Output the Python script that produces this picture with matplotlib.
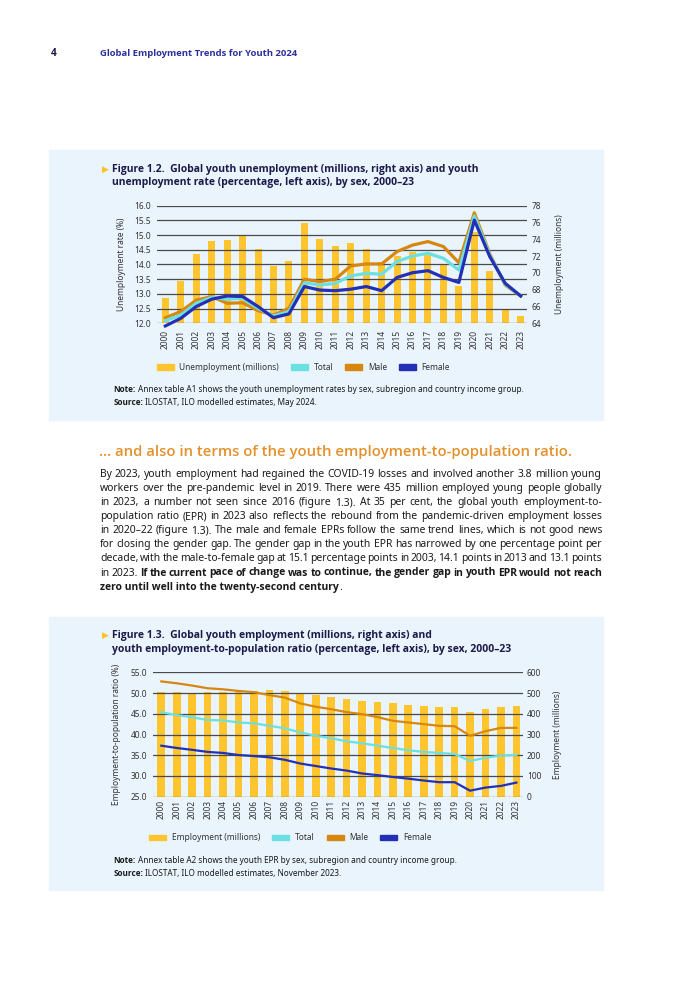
import numpy as np
import matplotlib
matplotlib.use('Agg')
import matplotlib.pyplot as plt
from matplotlib.patches import Rectangle, Patch

# Noto Sans here is a variable font (regular only), so bold text uses Open Sans
plt.rcParams['font.family'] = ['Noto Sans', 'DejaVu Sans']
BOLD_FAM = ['Open Sans', 'DejaVu Sans']

# ---- data ----
years = [str(y) for y in range(2000, 2024)]

# figure 1.2
unemp_millions = [67.0, 69.0, 72.2, 73.8, 73.9, 74.5, 72.9, 70.8, 71.4, 75.9, 74.0, 73.2,
                  73.6, 72.8, 71.3, 72.0, 72.5, 72.1, 70.9, 68.4, 74.9, 70.2, 65.7, 64.9]
ur_total = [12.09, 12.28, 12.68, 12.88, 12.82, 12.85, 12.51, 12.25, 12.40, 13.38, 13.30, 13.36,
            13.61, 13.70, 13.67, 14.10, 14.29, 14.38, 14.21, 13.81, 15.65, 14.32, 13.33, 12.93]
ur_male = [12.19, 12.40, 12.79, 12.91, 12.68, 12.70, 12.43, 12.28, 12.51, 13.50, 13.42, 13.50,
           13.95, 14.02, 14.02, 14.44, 14.66, 14.78, 14.61, 14.06, 15.76, 14.36, 13.30, 12.93]
ur_female = [11.91, 12.17, 12.57, 12.82, 12.93, 12.91, 12.57, 12.19, 12.32, 13.25, 13.13, 13.11,
             13.16, 13.25, 13.11, 13.56, 13.72, 13.79, 13.56, 13.39, 15.51, 14.27, 13.36, 12.93]

# figure 1.3
emp_millions = [503, 503, 502, 507, 507, 507, 511, 515, 510, 499, 490, 479,
                473, 463, 457, 450, 440, 436, 433, 432, 409, 423, 432, 438]
epr_total = [45.35, 44.7, 44.15, 43.5, 43.4, 42.9, 42.7, 42.1, 41.5, 40.5, 39.7, 39.1,
             38.35, 37.9, 37.3, 36.75, 36.2, 35.8, 35.55, 35.3, 33.6, 34.4, 34.9, 35.1]
epr_male = [52.8, 52.35, 51.8, 51.15, 50.9, 50.5, 50.2, 49.5, 48.9, 47.5, 46.7, 46.1,
            45.4, 44.9, 44.2, 43.3, 42.9, 42.5, 42.1, 42.0, 39.7, 40.8, 41.6, 41.6]
epr_female = [37.3, 36.75, 36.3, 35.8, 35.55, 35.05, 34.8, 34.5, 33.9, 33.0, 32.4, 31.8,
              31.3, 30.6, 30.2, 29.75, 29.35, 28.9, 28.5, 28.5, 26.45, 27.2, 27.6, 28.4]

body_lines = [
    "By 2023, youth employment had regained the COVID-19 losses and involved another 3.8 million young",
    "workers over the pre-pandemic level in 2019. There were 435 million employed young people globally",
    "in 2023, a number not seen since 2016 (figure 1.3). At 35 per cent, the global youth employment-to-",
    "population ratio (EPR) in 2023 also reflects the rebound from the pandemic-driven employment losses",
    "in 2020\u201322 (figure 1.3). The male and female EPRs follow the same trend lines, which is not good news",
    "for closing the gender gap. The gender gap in the youth EPR has narrowed by one percentage point per",
    "decade, with the male-to-female gap at 15.1 percentage points in 2003, 14.1 points in 2013 and 13.1 points",
]
body_bold_line = ("in 2023.", "If the current pace of change was to continue, the gender gap in youth EPR would not reach")
body_last = ("zero until well into the twenty-second century", ".")

YELLOW = '#FFC52F'
CYAN = '#6BE0E3'
ORANGE = '#D6870F'
BLUE = '#2330B5'
GRID = '#4a4a4a'
PANEL = '#EAF4FC'
NAVY = '#1d1a4a'
TXT = '#1a1a1a'

W, H = 700, 990
fig = plt.figure(figsize=(7, 9.9), dpi=100)
fig.patch.set_facecolor('white')


def fx(x):
    return x / W


def fy(y):
    return 1 - y / H


def axes_px(left, top, right, bottom):
    return fig.add_axes([fx(left), fy(bottom), (right - left) / W, (bottom - top) / H])


# header
fig.text(fx(50.5), fy(53), '4', fontsize=7.3, weight='bold', family=BOLD_FAM, color=NAVY, va='center')
fig.text(fx(100), fy(53), 'Global Employment Trends for Youth 2024', fontsize=6.8,
         weight='bold', family=BOLD_FAM, color='#2d2f9c', va='center')

# panels
fig.patches.append(Rectangle((fx(49), fy(420)), (603 - 49) / W, (420 - 150) / H,
                             transform=fig.transFigure, color=PANEL, zorder=-10))
fig.patches.append(Rectangle((fx(49), fy(890)), (603 - 49) / W, (890 - 617) / H,
                             transform=fig.transFigure, color=PANEL, zorder=-10))


def draw_chart(box, xlim, bars, bar_w, lines, lw, ylim, yticks, ylim2, yticks2, fmt,
               ylabel, ylabel_x, ylabel2, ylabel2_x, xpad):
    ax = axes_px(*box)
    ax2 = ax.twinx()
    ax.set_zorder(2)
    ax2.set_zorder(1)
    ax.patch.set_visible(False)
    ax2.patch.set_visible(False)
    x = np.arange(len(years))
    ax2.bar(x, bars, width=bar_w, color=YELLOW, zorder=1)
    for vals, col in lines:
        ax.plot(x, vals, color=col, lw=lw, clip_on=False, solid_joinstyle='round', zorder=3)
    ax.set_xlim(*xlim)
    ax.set_ylim(*ylim)
    ax2.set_ylim(*ylim2)
    ax.set_yticks(yticks)
    ax.set_yticklabels([fmt % v for v in yticks])
    ax2.set_yticks(yticks2)
    ax2.set_yticklabels([str(v) for v in yticks2])
    ax.set_xticks(x)
    ax.set_xticklabels(years, rotation=90)
    ax.grid(axis='y', color=GRID, lw=0.9, zorder=2)
    ax.set_axisbelow(True)
    for a in (ax, ax2):
        for s in a.spines.values():
            s.set_visible(False)
    ax.tick_params(axis='y', length=0, pad=4.3, labelsize=6, labelcolor='#333333')
    ax.tick_params(axis='x', length=0, pad=xpad, labelsize=6, labelcolor='#333333')
    ax2.tick_params(axis='y', length=0, pad=3, labelsize=6, labelcolor='#333333')
    cy = fy((box[1] + box[3]) / 2)
    fig.text(fx(ylabel_x), cy, ylabel, rotation=90, fontsize=6, color='#333333',
             ha='center', va='center')
    fig.text(fx(ylabel2_x), cy, ylabel2, rotation=90, fontsize=6, color='#333333',
             ha='center', va='center')
    return ax, ax2


draw_chart((156.7, 205.7, 527, 323.3), (-0.56, 23.41), unemp_millions, 0.45,
           [(ur_male, ORANGE), (ur_total, CYAN), (ur_female, BLUE)], 2.3,
           (12, 16), np.arange(12, 16.01, 0.5), (64, 78), list(range(64, 79, 2)), '%.1f',
           'Unemployment rate (%)', 121.5, 'Unemployment (millions)', 560, 5)

draw_chart((153.3, 672.3, 522.7, 796.7), (-0.52, 23.41), emp_millions, 0.5,
           [(epr_male, ORANGE), (epr_total, CYAN), (epr_female, BLUE)], 1.6,
           (25, 55), np.arange(25, 55.01, 5), (0, 600), list(range(0, 601, 100)), '%.1f',
           'Employment-to-population ratio (%)', 116.5, 'Employment (millions)', 557, 2.5)


def legend(x0, y, first):
    handles = [Patch(color=YELLOW), Patch(color=CYAN), Patch(color=ORANGE), Patch(color=BLUE)]
    labels = [first, 'Total', 'Male', 'Female']
    fig.legend(handles, labels, loc='center left', bbox_to_anchor=(fx(x0), fy(y)),
               ncol=4, frameon=False, fontsize=6, handlelength=2.05, handleheight=0.6,
               handletextpad=0.65, columnspacing=1.45, borderpad=0, borderaxespad=0,
               labelcolor='#333333')


legend(156.7, 367.3, 'Unemployment (millions)')
legend(149.3, 837.7, 'Employment (millions)')

fig.canvas.draw()
renderer = fig.canvas.get_renderer()


def width_of(t):
    return t.get_window_extent(renderer).width


def space_width(size, family=None):
    a = fig.text(0, 0, 'a a', fontsize=size, family=family)
    b = fig.text(0, 0, 'aa', fontsize=size, family=family)
    gap = width_of(a) - width_of(b)
    a.remove()
    b.remove()
    return gap


def two_part(x, y, bold, rest, size, color=TXT):
    t = fig.text(fx(x), fy(y), bold, fontsize=size, weight='bold', family=BOLD_FAM,
                 color=color, va='center')
    w = width_of(t)
    fig.text(fx(x + w + space_width(size)), fy(y), rest, fontsize=size, color=color, va='center')


def title(y1, line1, line2):
    fig.text(fx(102), fy(y1), '\u25b6', fontsize=6.5, color='#FCC22A', va='center',
             family='DejaVu Sans')
    fig.text(fx(112), fy(y1), line1, fontsize=7.5, weight='bold', family=BOLD_FAM,
             color=NAVY, va='center')
    fig.text(fx(112), fy(y1 + 13.5), line2, fontsize=7.5, weight='bold', family=BOLD_FAM,
             color=NAVY, va='center')


title(169.4, 'Figure 1.2.  Global youth unemployment (millions, right axis) and youth',
      'unemployment rate (percentage, left axis), by sex, 2000\u201323')
title(635.8, 'Figure 1.3.  Global youth employment (millions, right axis) and',
      'youth employment-to-population ratio (percentage, left axis), by sex, 2000\u201323')

two_part(113.3, 390, 'Note:', 'Annex table A1 shows the youth unemployment rates by sex, subregion and country income group.', 5.9)
two_part(113.3, 402.7, 'Source:', 'ILOSTAT, ILO modelled estimates, May 2024.', 5.9)
two_part(113.3, 860.7, 'Note:', 'Annex table A2 shows the youth EPR by sex, subregion and country income group.', 5.9)
two_part(113.3, 873.3, 'Source:', 'ILOSTAT, ILO modelled estimates, November 2023.', 5.9)

# section heading and body text
fig.text(fx(99), fy(451.7), '\u2026 and also in terms of the youth employment-to-population ratio.',
         fontsize=10.7, weight='semibold', family=BOLD_FAM, color='#E3912A', va='center')

X0, X1 = 100, 602

justified = [[(w, 'normal') for w in line.split(' ')] for line in body_lines]
justified.append([(w, 'normal') for w in body_bold_line[0].split(' ')] +
                 [(w, 'bold') for w in body_bold_line[1].split(' ')])


def words_width(words, size):
    ts = [fig.text(0, 0, w, fontsize=size, weight=wt,
                   family=BOLD_FAM if wt == 'bold' else None) for w, wt in words]
    tot = sum(width_of(t) for t in ts)
    for t in ts:
        t.remove()
    return tot


# pick a body size giving ~3 px word gaps, without letting any line run tighter than 1 px
wanted, limits = [], []
for words in justified:
    ww = words_width(words, 7.0)
    n = len(words) - 1
    wanted.append(7.0 * (X1 - X0 - 3.0 * n) / ww)
    limits.append(7.0 * (X1 - X0 - 1.0 * n) / ww)
BODY = min(float(np.median(wanted)), min(limits))


def justify(words, y):
    texts = []
    for w, wt in words:
        fam = BOLD_FAM if wt == 'bold' else None
        texts.append(fig.text(0, fy(y), w, fontsize=BODY, weight=wt, family=fam,
                              color=TXT, va='center'))
    widths = [width_of(t) for t in texts]
    gap = (X1 - X0 - sum(widths)) / (len(texts) - 1)
    x = X0
    for t, wd in zip(texts, widths):
        t.set_x(fx(x))
        x += wd + gap


y = 474.3
for words in justified:
    justify(words, y)
    y += 14.1
t = fig.text(fx(X0), fy(y), body_last[0], fontsize=BODY, weight='bold', family=BOLD_FAM,
             color=TXT, va='center')
fig.text(fx(X0 + width_of(t)), fy(y), body_last[1], fontsize=BODY, color=TXT, va='center')

fig.savefig('out.png', dpi=100)
